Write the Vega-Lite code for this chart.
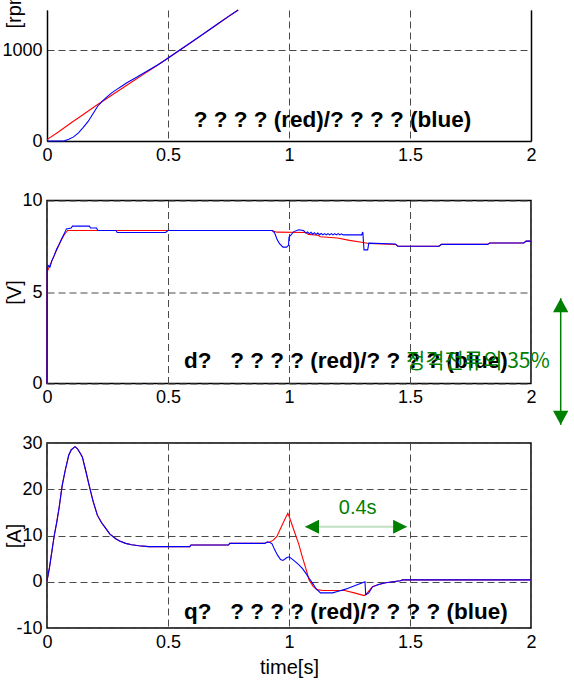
{
"$schema": "https://vega.github.io/schema/vega-lite/v6.json",
"padding": {"top": -18, "left": 1, "right": 3, "bottom": 3},
"background": "white",
"spacing": 59.5,
"bounds": "flush",
"datasets": {
"sr": [{"t":0,"v":15},{"t":0.05,"v":105},{"t":0.1,"v":200},{"t":0.15,"v":292},{"t":0.2,"v":385},{"t":0.25,"v":472},{"t":0.3,"v":560},{"t":0.35,"v":648},{"t":0.4,"v":735},{"t":0.45,"v":822},{"t":0.5,"v":910},{"t":0.55,"v":1000},{"t":0.6,"v":1090},{"t":0.65,"v":1183},{"t":0.7,"v":1275},{"t":0.75,"v":1368},{"t":0.79,"v":1440}],
"sb": [{"t":0,"v":0},{"t":0.05,"v":0},{"t":0.072,"v":2},{"t":0.09,"v":18},{"t":0.11,"v":45},{"t":0.13,"v":90},{"t":0.15,"v":150},{"t":0.17,"v":215},{"t":0.19,"v":300},{"t":0.21,"v":385},{"t":0.23,"v":440},{"t":0.25,"v":490},{"t":0.27,"v":535},{"t":0.29,"v":570},{"t":0.31,"v":605},{"t":0.33,"v":640},{"t":0.35,"v":670},{"t":0.37,"v":700},{"t":0.4,"v":748},{"t":0.43,"v":795},{"t":0.46,"v":840},{"t":0.49,"v":893},{"t":0.5,"v":912},{"t":0.55,"v":1003},{"t":0.6,"v":1093},{"t":0.65,"v":1185},{"t":0.7,"v":1278},{"t":0.75,"v":1370},{"t":0.79,"v":1440}],
"vr": [{"t":0,"v":0},{"t":0.001,"v":6.1},{"t":0.01,"v":6.4},{"t":0.02,"v":6.7},{"t":0.03,"v":7.0},{"t":0.04,"v":7.3},{"t":0.05,"v":7.6},{"t":0.06,"v":7.85},{"t":0.07,"v":8.1},{"t":0.085,"v":8.36},{"t":0.5,"v":8.36},{"t":0.93,"v":8.36},{"t":0.95,"v":8.27},{"t":1.07,"v":8.25},{"t":1.08,"v":8.15},{"t":1.12,"v":8.1},{"t":1.13,"v":8.02},{"t":1.2,"v":7.95},{"t":1.25,"v":7.82},{"t":1.3,"v":7.72},{"t":1.33,"v":7.65},{"t":1.44,"v":7.6},{"t":1.45,"v":7.5},{"t":1.62,"v":7.5},{"t":1.63,"v":7.6},{"t":1.82,"v":7.6},{"t":1.83,"v":7.68},{"t":1.97,"v":7.68},{"t":1.98,"v":7.78},{"t":2.0,"v":7.78}],
"vb": [{"t":0,"v":0},{"t":0.001,"v":6.3},{"t":0.005,"v":6.45},{"t":0.012,"v":6.35},{"t":0.02,"v":6.7},{"t":0.03,"v":7.0},{"t":0.04,"v":7.35},{"t":0.05,"v":7.6},{"t":0.06,"v":7.9},{"t":0.07,"v":8.15},{"t":0.08,"v":8.45},{"t":0.1,"v":8.5},{"t":0.105,"v":8.6},{"t":0.175,"v":8.6},{"t":0.18,"v":8.5},{"t":0.205,"v":8.5},{"t":0.21,"v":8.36},{"t":0.285,"v":8.36},{"t":0.29,"v":8.25},{"t":0.49,"v":8.25},{"t":0.5,"v":8.36},{"t":0.93,"v":8.36},{"t":0.94,"v":8.25},{"t":0.95,"v":7.9},{"t":0.96,"v":7.65},{"t":0.975,"v":7.45},{"t":0.99,"v":7.45},{"t":0.998,"v":7.55},{"t":1.0,"v":8.0},{"t":1.02,"v":8.3},{"t":1.04,"v":8.4},{"t":1.06,"v":8.36},{"t":1.07,"v":8.22},{"t":1.077,"v":8.28},{"t":1.084,"v":8.18},{"t":1.091,"v":8.26},{"t":1.098,"v":8.16},{"t":1.105,"v":8.24},{"t":1.112,"v":8.14},{"t":1.119,"v":8.22},{"t":1.126,"v":8.13},{"t":1.133,"v":8.2},{"t":1.14,"v":8.12},{"t":1.147,"v":8.19},{"t":1.154,"v":8.12},{"t":1.161,"v":8.19},{"t":1.168,"v":8.12},{"t":1.175,"v":8.19},{"t":1.182,"v":8.12},{"t":1.189,"v":8.19},{"t":1.196,"v":8.12},{"t":1.203,"v":8.19},{"t":1.21,"v":8.12},{"t":1.217,"v":8.18},{"t":1.224,"v":8.12},{"t":1.24,"v":8.12},{"t":1.3,"v":8.12},{"t":1.305,"v":8.28},{"t":1.31,"v":7.3},{"t":1.325,"v":7.3},{"t":1.33,"v":7.67},{"t":1.44,"v":7.62},{"t":1.45,"v":7.5},{"t":1.62,"v":7.5},{"t":1.63,"v":7.6},{"t":1.82,"v":7.6},{"t":1.83,"v":7.68},{"t":1.97,"v":7.68},{"t":1.98,"v":7.78},{"t":2.0,"v":7.78}],
"cr": [{"t":0,"v":0.2},{"t":0.01,"v":3},{"t":0.02,"v":6.5},{"t":0.03,"v":10},{"t":0.04,"v":12.8},{"t":0.05,"v":16},{"t":0.063,"v":20.9},{"t":0.075,"v":24},{"t":0.09,"v":27.4},{"t":0.1,"v":28.5},{"t":0.116,"v":29.2},{"t":0.125,"v":28.8},{"t":0.135,"v":28},{"t":0.146,"v":27},{"t":0.16,"v":24},{"t":0.174,"v":20.9},{"t":0.19,"v":17.5},{"t":0.208,"v":14.4},{"t":0.225,"v":12.8},{"t":0.242,"v":11.6},{"t":0.26,"v":10.3},{"t":0.284,"v":9.3},{"t":0.3,"v":8.8},{"t":0.325,"v":8.3},{"t":0.35,"v":8.0},{"t":0.38,"v":7.8},{"t":0.42,"v":7.6},{"t":0.59,"v":7.6},{"t":0.595,"v":7.95},{"t":0.75,"v":7.95},{"t":0.755,"v":8.3},{"t":0.9,"v":8.3},{"t":0.91,"v":8.6},{"t":0.92,"v":8.55},{"t":0.935,"v":9.0},{"t":0.95,"v":9.8},{"t":0.965,"v":11.5},{"t":0.98,"v":13.2},{"t":0.995,"v":14.8},{"t":1.0,"v":14.2},{"t":1.02,"v":11.2},{"t":1.04,"v":8.2},{"t":1.055,"v":5.4},{"t":1.07,"v":2.8},{"t":1.083,"v":0.4},{"t":1.1,"v":-1.0},{"t":1.115,"v":-1.7},{"t":1.14,"v":-1.9},{"t":1.23,"v":-1.9},{"t":1.27,"v":-2.4},{"t":1.31,"v":-3.0},{"t":1.32,"v":-2.6},{"t":1.345,"v":-1.1},{"t":1.37,"v":-0.6},{"t":1.4,"v":-0.2},{"t":1.43,"v":0.0},{"t":1.46,"v":0.2},{"t":1.47,"v":0.4},{"t":2.0,"v":0.4}],
"cb": [{"t":0,"v":0.2},{"t":0.01,"v":3},{"t":0.02,"v":6.5},{"t":0.03,"v":10},{"t":0.04,"v":12.8},{"t":0.05,"v":16},{"t":0.063,"v":20.9},{"t":0.075,"v":24},{"t":0.09,"v":27.4},{"t":0.1,"v":28.5},{"t":0.116,"v":29.2},{"t":0.125,"v":28.8},{"t":0.135,"v":28},{"t":0.146,"v":27},{"t":0.16,"v":24},{"t":0.174,"v":20.9},{"t":0.19,"v":17.5},{"t":0.208,"v":14.4},{"t":0.225,"v":12.8},{"t":0.242,"v":11.6},{"t":0.26,"v":10.3},{"t":0.284,"v":9.3},{"t":0.3,"v":8.8},{"t":0.325,"v":8.3},{"t":0.35,"v":8.0},{"t":0.38,"v":7.8},{"t":0.42,"v":7.6},{"t":0.59,"v":7.6},{"t":0.595,"v":7.95},{"t":0.75,"v":7.95},{"t":0.755,"v":8.3},{"t":0.9,"v":8.3},{"t":0.91,"v":8.6},{"t":0.92,"v":8.55},{"t":0.93,"v":8.2},{"t":0.94,"v":7.0},{"t":0.952,"v":5.8},{"t":0.965,"v":4.8},{"t":0.975,"v":4.6},{"t":0.99,"v":5.2},{"t":1.0,"v":5.4},{"t":1.013,"v":4.9},{"t":1.027,"v":4.3},{"t":1.04,"v":3.7},{"t":1.055,"v":2.9},{"t":1.07,"v":1.8},{"t":1.083,"v":0.75},{"t":1.1,"v":-0.5},{"t":1.11,"v":-1.4},{"t":1.13,"v":-2.4},{"t":1.18,"v":-2.4},{"t":1.2,"v":-2.1},{"t":1.234,"v":-1.6},{"t":1.26,"v":-1.1},{"t":1.29,"v":-0.5},{"t":1.314,"v":0.0},{"t":1.317,"v":-2.8},{"t":1.33,"v":-2.4},{"t":1.345,"v":-1.1},{"t":1.37,"v":-0.6},{"t":1.4,"v":-0.2},{"t":1.43,"v":0.0},{"t":1.46,"v":0.2},{"t":1.47,"v":0.4},{"t":2.0,"v":0.4}]
},
"config": {
"font": "Liberation Sans",
"view": {"stroke": "#000", "strokeWidth": 1.5},
"axis": {"labelFont": "Liberation Sans", "labelFontSize": 18, "labelColor": "#000", "ticks": false, "domain": false, "domainColor": "#000", "domainWidth": 1.5, "gridColor": "#4a4a4a", "gridDash": [7, 4], "gridWidth": 1, "gridOpacity": 1, "titleFont": "Liberation Sans", "titleFontSize": 20, "titleFontWeight": "normal", "titleColor": "#000", "labelPadding": 5, "labelFlush": false, "labelOverlap": false},
"line": {"strokeWidth": 1.1}
},
"vconcat": [
{
"width": 484, "height": 131,
"view": {"stroke": null},
"encoding": {
"x": {"field": "t", "type": "quantitative", "scale": {"domain": [0, 2], "nice": false}, "axis": {"values": [0, 0.5, 1, 1.5, 2], "labelExpr": "'' + datum.value", "grid": true, "domain": true, "title": null}}
},
"layer": [
{"data": {"name": "sr"}, "mark": {"type": "line", "color": "#ff0000"},
 "encoding": {"y": {"field": "v", "type": "quantitative", "scale": {"domain": [0, 1440], "nice": false, "zero": false}, "axis": {"orient": "left", "values": [0, 1000], "labelExpr": "'' + datum.value", "grid": true, "domain": true, "title": "[rpm]", "titleX": -23, "titleY": 18, "titleAlign": "left", "titleBaseline": "bottom"}}}},
{"data": {"name": "sb"}, "mark": {"type": "line", "color": "#0000ff"},
 "encoding": {"y": {"field": "v", "type": "quantitative", "axis": {"orient": "right", "labels": false, "grid": false, "domain": true, "title": null, "values": []}}}},
{"data": {"values": [{"t": 1.18, "v": 231, "label": "? ? ? ? (red)/? ? ? ? (blue)"}]},
 "mark": {"type": "text", "font": "Liberation Sans", "fontWeight": "bold", "fontSize": 22.5, "align": "center", "baseline": "middle", "color": "#000"},
 "encoding": {"y": {"field": "v", "type": "quantitative", "axis": null}, "text": {"field": "label"}}}
],
"resolve": {"axis": {"y": "independent"}}
},
{
"width": 484, "height": 183,
"encoding": {
"x": {"field": "t", "type": "quantitative", "scale": {"domain": [0, 2], "nice": false}, "axis": {"values": [0, 0.5, 1, 1.5, 2], "labelExpr": "'' + datum.value", "grid": true, "title": null}},
"y": {"field": "v", "type": "quantitative", "scale": {"domain": [0, 10], "nice": false}, "axis": {"values": [0, 5, 10], "labelExpr": "'' + datum.value", "grid": true, "title": "[V]", "titleX": -23, "titleBaseline": "bottom"}}
},
"layer": [
{"data": {"name": "vr"}, "mark": {"type": "line", "color": "#ff0000"}},
{"data": {"name": "vb"}, "mark": {"type": "line", "color": "#0000ff"}},
{"data": {"values": [{"t": 0.566, "v": 1.23, "label": "d?\u00a0\u00a0\u00a0? ? ? ? (red)/? ? ? ? (blue)"}]},
 "mark": {"type": "text", "font": "Liberation Sans", "fontWeight": "bold", "fontSize": 22.5, "align": "left", "baseline": "middle", "color": "#000"},
 "encoding": {"text": {"field": "label"}}},
{"data": {"values": [{"t": 1.483, "v": 1.15, "label": "정격전류의 35%"}]},
 "mark": {"type": "text", "font": "Noto Sans CJK KR", "fontSize": 21, "align": "left", "baseline": "middle", "color": "#008000"},
 "encoding": {"text": {"field": "label"}}},
{"data": {"values": [{"t": 2.1227, "v": 4.66, "v2": -2.26}]},
 "mark": {"type": "rule", "color": "#008000", "strokeWidth": 1.5},
 "encoding": {"y2": {"field": "v2"}}},
{"data": {"values": [{"t": 2.1227, "v": 4.66, "dir": "up"}, {"t": 2.1227, "v": -2.26, "dir": "down"}]},
 "mark": {"type": "point", "filled": true, "color": "#008000", "opacity": 1, "size": 196},
 "encoding": {"shape": {"field": "dir", "type": "nominal", "scale": {"domain": ["up", "down", "left", "right"], "range": ["M0,0L1.1,2L-1.1,2Z", "M0,0L1.1,-2L-1.1,-2Z", "M0,0L2,1L2,-1Z", "M0,0L-2,1L-2,-1Z"]}, "legend": null}}}
]
},
{
"width": 484, "height": 185,
"encoding": {
"x": {"field": "t", "type": "quantitative", "scale": {"domain": [0, 2], "nice": false}, "axis": {"values": [0, 0.5, 1, 1.5, 2], "labelExpr": "'' + datum.value", "grid": true, "title": "time[s]", "titlePadding": 6}},
"y": {"field": "v", "type": "quantitative", "scale": {"domain": [-10, 30], "nice": false}, "axis": {"values": [-10, 0, 10, 20, 30], "labelExpr": "'' + datum.value", "grid": true, "title": "[A]", "titleX": -23, "titleBaseline": "bottom"}}
},
"layer": [
{"data": {"name": "cr"}, "mark": {"type": "line", "color": "#ff0000"}},
{"data": {"name": "cb"}, "mark": {"type": "line", "color": "#0000ff"}},
{"data": {"values": [{"t": 0.566, "v": -6.6, "label": "q?\u00a0\u00a0\u00a0? ? ? ? (red)/? ? ? ? (blue)"}]},
 "mark": {"type": "text", "font": "Liberation Sans", "fontWeight": "bold", "fontSize": 22.5, "align": "left", "baseline": "middle", "color": "#000"},
 "encoding": {"text": {"field": "label"}}},
{"data": {"values": [{"t": 1.066, "v": 11.9, "t2": 1.488}]},
 "mark": {"type": "rule", "color": "#bfe0bf", "strokeWidth": 2},
 "encoding": {"x2": {"field": "t2"}}},
{"data": {"values": [{"t": 1.066, "v": 11.9, "dir": "left"}, {"t": 1.488, "v": 11.9, "dir": "right"}]},
 "mark": {"type": "point", "filled": true, "color": "#008000", "opacity": 1, "size": 196},
 "encoding": {"shape": {"field": "dir", "type": "nominal", "scale": {"domain": ["up", "down", "left", "right"], "range": ["M0,0L1.1,2L-1.1,2Z", "M0,0L1.1,-2L-1.1,-2Z", "M0,0L2,1L2,-1Z", "M0,0L-2,1L-2,-1Z"]}, "legend": null}}},
{"data": {"values": [{"t": 1.284, "v": 15.95, "label": "0.4s"}]},
 "mark": {"type": "text", "font": "Liberation Sans", "fontSize": 20, "align": "center", "baseline": "middle", "color": "#008000"},
 "encoding": {"text": {"field": "label"}}}
]
}
]
}
